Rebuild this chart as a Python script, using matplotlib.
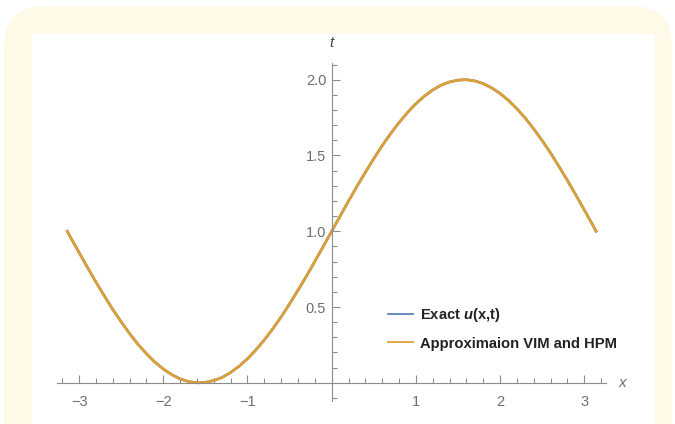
import matplotlib.pyplot as plt
from matplotlib.patches import FancyBboxPatch, Rectangle
from matplotlib.ticker import MultipleLocator, FixedLocator

plt.rcParams['font.family'] = ['Liberation Sans', 'DejaVu Sans']
plt.rcParams['mathtext.fontset'] = 'custom'
plt.rcParams['mathtext.it'] = 'Liberation Sans:italic:bold'
plt.rcParams['mathtext.rm'] = 'Liberation Sans:bold'

# values
x_vals = [-3.14, -3.1, -3.0, -2.9, -2.8, -2.7, -2.6, -2.5, -2.4, -2.3, -2.2,
          -2.1, -2.0, -1.9, -1.8, -1.7, -1.6, -1.5, -1.4, -1.3, -1.2, -1.1,
          -1.0, -0.9, -0.8, -0.7, -0.6, -0.5, -0.4, -0.3, -0.2, -0.1, 0.0,
          0.1, 0.2, 0.3, 0.4, 0.5, 0.6, 0.7, 0.8, 0.9, 1.0, 1.1, 1.2, 1.3,
          1.4, 1.5, 1.6, 1.7, 1.8, 1.9, 2.0, 2.1, 2.2, 2.3, 2.4, 2.5, 2.6,
          2.7, 2.8, 2.9, 3.0, 3.1, 3.14]
exact_u = [1.000, 0.958, 0.859, 0.761, 0.665, 0.573, 0.484, 0.402, 0.325, 0.254,
           0.192, 0.137, 0.091, 0.054, 0.026, 0.008, 0.000, 0.003, 0.015, 0.036,
           0.068, 0.109, 0.159, 0.217, 0.283, 0.356, 0.435, 0.521, 0.611, 0.704,
           0.801, 0.900, 1.000, 1.100, 1.199, 1.296, 1.389, 1.479, 1.565, 1.644,
           1.717, 1.783, 1.841, 1.891, 1.932, 1.964, 1.985, 1.997, 2.000, 1.992,
           1.974, 1.946, 1.909, 1.863, 1.808, 1.746, 1.675, 1.598, 1.516, 1.427,
           1.335, 1.239, 1.141, 1.042, 1.000]
approx_u = [1.000, 0.958, 0.859, 0.761, 0.665, 0.573, 0.484, 0.402, 0.325, 0.254,
            0.192, 0.137, 0.091, 0.054, 0.026, 0.008, 0.000, 0.003, 0.015, 0.036,
            0.068, 0.109, 0.159, 0.217, 0.283, 0.356, 0.435, 0.521, 0.611, 0.704,
            0.801, 0.900, 1.000, 1.100, 1.199, 1.296, 1.389, 1.479, 1.565, 1.644,
            1.717, 1.783, 1.841, 1.891, 1.932, 1.964, 1.985, 1.997, 2.000, 1.992,
            1.974, 1.946, 1.909, 1.863, 1.808, 1.746, 1.675, 1.598, 1.516, 1.427,
            1.335, 1.239, 1.141, 1.042, 1.000]

x_major = [-3, -2, -1, 1, 2, 3]
y_major = [0.5, 1.0, 1.5, 2.0]

W, H = 675, 424
fig = plt.figure(figsize=(6.75, 4.24), dpi=100, facecolor='white')

# cream rounded frame with white panel
fig.patches.append(FancyBboxPatch((4 / W, -0.1), 668 / W, (424 - 6) / H + 0.1,
                                  boxstyle='round,pad=0,rounding_size=0.06',
                                  transform=fig.transFigure, facecolor='#fffae8',
                                  edgecolor='none', mutation_aspect=W / H,
                                  zorder=-2))
fig.patches.append(Rectangle((32 / W, 0), (655 - 32) / W, (424 - 34) / H,
                             transform=fig.transFigure, facecolor='white',
                             edgecolor='none', zorder=-1))

ax = fig.add_axes([56.7 / W, 1 - 401 / H, (606 - 56.7) / W, (401 - 63) / H])
ax.patch.set_alpha(0)
ax.set_zorder(1)

ax.plot(x_vals, exact_u, color='#5e81b5', lw=1.9, label='Exact $u$(x,t)')
ax.plot(x_vals, approx_u, color='#dfa033', lw=1.9, label='Approximaion VIM and HPM')

ax.set_xlim(-3.266, 3.258)
ax.set_ylim(-0.12, 2.11)

gray = '#8c8c8c'
for side in ['top', 'right']:
    ax.spines[side].set_visible(False)
ax.spines['left'].set_position(('data', 0))
ax.spines['bottom'].set_position(('data', 0))
for side in ['left', 'bottom']:
    ax.spines[side].set_color(gray)
    ax.spines[side].set_linewidth(0.8)

ax.xaxis.set_major_locator(FixedLocator(x_major))
ax.xaxis.set_minor_locator(MultipleLocator(0.2))
ax.yaxis.set_major_locator(FixedLocator(y_major))
ax.yaxis.set_minor_locator(MultipleLocator(0.1))
ax.set_xticklabels(['\u22123', '\u22122', '\u22121', '1', '2', '3'])
ax.set_yticklabels(['0.5', '1.0', '1.5', '2.0'])
ax.tick_params(which='both', direction='in', color=gray, width=0.8,
               labelcolor='#6e6e6e', labelsize=10.5)
ax.tick_params(which='major', length=6)
ax.tick_params(which='minor', length=3.5)
ax.tick_params(axis='x', pad=9)
ax.tick_params(axis='y', pad=4)

ax.text(3.45, 0, 'x', style='italic', color='#6e6e6e', fontsize=11,
        ha='center', va='center', clip_on=False)
ax.text(0, 2.24, 't', style='italic', color='#444444', fontsize=11,
        ha='center', va='center', clip_on=False)

leg = ax.legend(loc='upper left', bbox_to_anchor=(388 / W, 1 - 306 / H),
                bbox_transform=fig.transFigure, frameon=False, borderpad=0,
                borderaxespad=0, handlelength=1.7, handletextpad=0.5,
                labelspacing=0.85, prop={'weight': 'bold', 'size': 10.6})
for line in leg.get_lines():
    line.set_linewidth(1.3)
for txt in leg.get_texts():
    txt.set_color('#222222')

fig.savefig('out.png', dpi=100)
